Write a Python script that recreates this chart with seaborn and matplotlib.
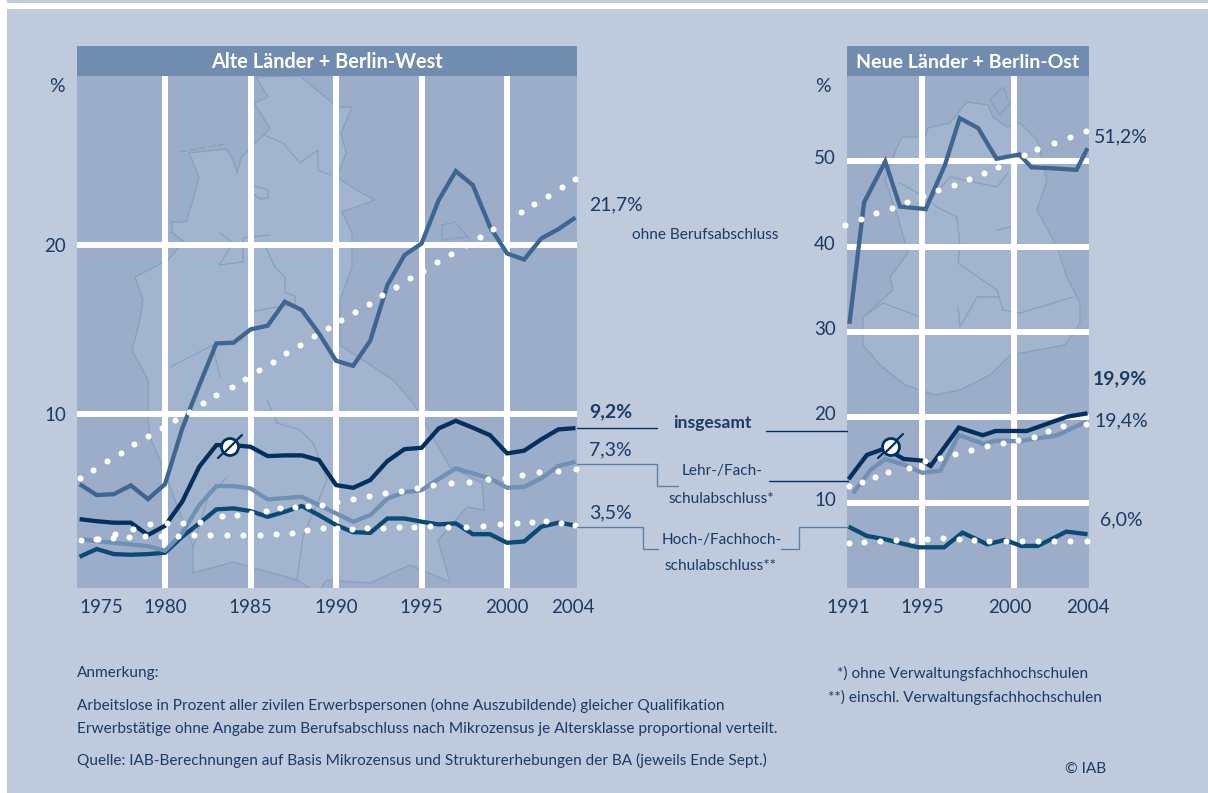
#!/usr/bin/env python3
# -*- coding: utf-8 -*-

import matplotlib as mpl
mpl.use("Agg")
import matplotlib.pyplot as plt
import matplotlib.patches as mpatches
from matplotlib.transforms import ScaledTranslation
import seaborn as sns

W, H = 1208, 793

BG = "#BFCBDC"
SEA = "#9BADC8"
LAND = "#A3B5CE"
MAPLINE = "#86A0BF"
HEADER = "#708DAF"
TEXT = "#1B3A66"
DARK = "#04305F"
OHNE = "#3F6690"
LEHR = "#7090B4"
HOCH = "#0B4A73"
CONNECT = "#5F7FA4"

# ---- west, 1975-2004 (percent)
west_years = list(range(1975, 2005))
west_total = [3.77, 3.65, 3.56, 3.56, 2.83, 3.38, 4.80, 6.88, 8.16, 8.16, 8.06, 7.51, 7.55, 7.55, 7.27,
              5.79, 5.63, 6.09, 7.21, 7.92, 8.00, 9.15, 9.60, 9.19, 8.75, 7.67, 7.83, 8.50, 9.09, 9.17]
west_none = [5.85, 5.20, 5.25, 5.77, 4.96, 5.85, 9.13, 11.7, 14.19, 14.23, 15.02, 15.24, 16.66, 16.16, 14.78,
             13.16, 12.86, 14.35, 17.64, 19.42, 20.11, 22.68, 24.40, 23.57, 21.10, 19.52, 19.16, 20.41, 20.96, 21.65]
west_voc = [2.59, 2.47, 2.37, 2.27, 2.17, 1.90, 2.93, 4.60, 5.73, 5.73, 5.59, 4.94, 5.02, 5.10, 4.60,
            4.11, 3.62, 4.01, 4.98, 5.37, 5.49, 6.15, 6.78, 6.48, 6.19, 5.63, 5.69, 6.19, 6.92, 7.17]
west_uni = [1.54, 2.00, 1.70, 1.66, 1.70, 1.78, 2.73, 3.52, 4.35, 4.41, 4.25, 3.91, 4.21, 4.55, 4.01,
            3.42, 3.00, 2.96, 3.81, 3.81, 3.62, 3.46, 3.52, 2.88, 2.88, 2.37, 2.45, 3.32, 3.56, 3.40]

# dotted series in the picture
west_none_f_years = [1975.0, 1975.8, 1976.6, 1977.4, 1978.2, 1979.0, 1979.8, 1980.6, 1981.4, 1982.2, 1983.0, 1983.9,
                     1984.7, 1985.5, 1986.3, 1987.1, 1987.9, 1988.7, 1989.5, 1990.3, 1991.1, 1991.9, 1992.7, 1993.5,
                     1994.3, 1995.1, 1995.9, 1996.7, 1997.6, 1998.4, 1999.2, 2000.0, 2000.8, 2001.6, 2002.4, 2003.2, 2004.0]
west_none_f = [6.2, 6.7, 7.2, 7.7, 8.2, 8.7, 9.2, 9.65, 10.15, 10.65, 11.15, 11.6, 12.1, 12.6, 13.1, 13.6, 14.1, 14.6,
               15.1, 15.55, 16.05, 16.55, 17.05, 17.55, 18.05, 18.5, 19.0, 19.5, 20.0, 20.5, 21.0, 21.5, 22.0, 22.45,
               22.95, 23.45, 23.95]
west_voc_f_years = [1975.09, 1976.06, 1977.1, 1978.1, 1979.12, 1980.1, 1981.07, 1982.03, 1983.35, 1984.2, 1985.03,
                    1985.89, 1986.74, 1987.6, 1988.38, 1989.16, 1990.08, 1991.01, 1991.9, 1992.87, 1993.8, 1994.72,
                    1995.66, 1996.73, 1997.8, 1998.87, 1999.89, 2000.86, 2001.84, 2002.95, 2004.04]
west_voc_f = [2.53, 2.59, 2.88, 3.18, 3.48, 3.52, 3.54, 3.58, 3.95, 4.01, 4.11, 4.25, 4.41, 4.52, 4.58, 4.60, 4.78,
              4.94, 5.12, 5.30, 5.45, 5.59, 5.79, 5.89, 5.99, 6.13, 6.22, 6.40, 6.54, 6.64, 6.72]
west_uni_f_years = [1975.96, 1976.94, 1977.89, 1978.83, 1979.75, 1980.74, 1981.72, 1982.65, 1983.63, 1984.56, 1985.54,
                    1986.49, 1987.41, 1988.3, 1989.22, 1990.08, 1990.92, 1991.83, 1992.77, 1993.67, 1994.58, 1995.5,
                    1996.54, 1997.57, 1998.58, 1999.58, 2000.57, 2001.45, 2002.29, 2003.15, 2003.99]
west_uni_f = [2.57, 2.63, 2.70, 2.77, 2.79, 2.79, 2.81, 2.81, 2.83, 2.83, 2.85, 2.87, 2.96, 3.12, 3.26, 3.22, 3.18,
              3.22, 3.22, 3.28, 3.32, 3.36, 3.32, 3.28, 3.38, 3.46, 3.56, 3.60, 3.64, 3.52, 3.42]

# ---- east, 1991-2004 (percent)
east_total_years = [1991, 1992, 1993, 1994, 1995, 1995.47, 1997, 1998.3, 1999, 2000.7, 2002.9, 2004]
east_total = [12.74, 15.59, 16.37, 15.12, 14.93, 14.30, 18.80, 17.90, 18.40, 18.40, 20.08, 20.47]
east_none_years = [1991.05, 1991.85, 1993, 1993.8, 1995.2, 1996.25, 1997.05, 1998.05, 1999.05, 2000.3, 2000.95, 2002,
                   2003.4, 2004]
east_none = [30.96, 45.2, 49.98, 44.7, 44.4, 49.6, 55.06, 53.9, 50.3, 50.8, 49.3, 49.2, 49.0, 51.55]
east_voc_years = [1991.25, 1992.2, 1993, 1994.1, 1995, 1996, 1997, 1998.33, 1999, 2000.2, 2002.3, 2003.95]
east_voc = [11.1, 13.83, 15.12, 14.4, 13.5, 13.75, 17.94, 16.88, 17.27, 17.2, 17.86, 19.5]
east_uni_years = [1991, 1992, 1993, 1994, 1994.8, 1996.2, 1997.2, 1998.55, 1999.5, 2000.4, 2001.3, 2002.85, 2004]
east_uni = [7.19, 6.10, 5.71, 5.16, 4.77, 4.77, 6.49, 5.12, 5.63, 4.93, 4.93, 6.61, 6.30]

east_none_f_years = [1990.83, 1991.68, 1992.52, 1993.35, 1994.2, 1995.04, 1995.87, 1996.72, 1997.55, 1998.39, 1999.11,
                     1999.84, 2000.56, 2001.27, 2002.16, 2003.04, 2003.93]
east_none_f = [42.56, 43.2, 43.9, 44.55, 45.2, 45.9, 46.6, 47.25, 47.9, 48.6, 49.3, 50.0, 50.7, 51.4, 52.1, 52.8, 53.5]
east_voc_f_years = [1991.01, 1991.72, 1992.45, 1993.17, 1994.31, 1995.16, 1995.98, 1996.78, 1997.64, 1998.55, 1999.38,
                    2000.22, 2001.07, 2001.87, 2002.64, 2003.9]
east_voc_f = [11.96, 12.47, 13.05, 13.56, 14.03, 14.89, 15.28, 15.67, 16.18, 16.68, 17.04, 17.35, 17.7, 18.36, 19.03,
              19.18]
east_uni_f_years = [1991.01, 1991.87, 1992.72, 1993.59, 1994.44, 1995.29, 1996.16, 1996.99, 1997.83, 1998.66, 1999.55,
                    2000.42, 2001.3, 2002.17, 2003.06, 2003.95]
east_uni_f = [5.32, 5.40, 5.51, 5.59, 5.67, 5.79, 5.90, 5.71, 5.59, 5.47, 5.47, 5.47, 5.47, 5.47, 5.47, 5.47]

# map backdrop, in picture pixels
MAP_WEST = [(189, 153), (226, 149), (233, 160), (237, 173), (241, 158), (258, 140), (264, 135), (270, 128), (254, 103),
            (268, 97), (256, 77), (300, 76), (337, 107), (352, 107), (341, 133), (346, 153), (337, 177), (356, 190),
            (375, 200), (342, 212), (352, 233), (352, 267), (340, 300), (340, 345), (393, 380), (413, 403), (423, 420),
            (450, 467), (482, 483), (484, 510), (467, 507), (438, 540), (450, 582), (410, 565), (370, 583), (327, 580),
            (317, 593), (297, 580), (233, 562), (193, 573), (193, 547), (160, 460), (150, 437), (148, 417), (148, 380),
            (132, 350), (140, 320), (143, 300), (135, 277), (168, 260), (184, 242), (172, 232), (172, 222), (186, 222),
            (193, 200), (199, 177)]
MAP_EAST = [(897, 147), (902, 137), (925, 137), (928, 128), (950, 123), (967, 102), (988, 105), (993, 117), (1007, 127),
            (1020, 123), (1037, 140), (1040, 150), (1047, 180), (1037, 210), (1057, 247), (1067, 277), (1080, 303),
            (1080, 323), (1065, 345), (1010, 355), (990, 375), (960, 390), (935, 395), (905, 385), (880, 365),
            (863, 345), (863, 317), (893, 290), (890, 277), (908, 253), (898, 217), (885, 180)]
MAP_LINES = [
    [(264, 135), (283, 143), (300, 163), (318, 150), (318, 170), (331, 175)],
    [(251, 185), (268, 190), (268, 198), (260, 199), (251, 192), (251, 185)],
    [(220, 233), (233, 243), (219, 265), (243, 262), (243, 238), (270, 235)],
    [(266, 248), (275, 267), (285, 277), (285, 293), (295, 296), (295, 305), (270, 308), (252, 312)],
    [(217, 343), (170, 367)],
    [(213, 347), (220, 377)],
    [(267, 400), (277, 423), (300, 430), (313, 443), (327, 480), (303, 537), (297, 580)],
    [(227, 477), (208, 497), (193, 547)],
    [(442, 225), (455, 222), (468, 237), (442, 240), (442, 225)],
    [(990, 100), (1003, 87), (1010, 103), (1000, 115), (990, 100)],
    [(900, 183), (930, 200), (950, 177), (997, 187), (1008, 173)],
    [(928, 200), (937, 207), (957, 217), (960, 247), (958, 263), (997, 290), (1003, 310), (1020, 313), (1040, 307),
     (1073, 297)],
    [(997, 230), (1010, 227), (1020, 247)],
    [(863, 317), (883, 303), (920, 317), (925, 323)],
    [(958, 307), (960, 327), (977, 297), (1000, 297)],
]

sns.set_theme(style="whitegrid", rc={
    "grid.color": "white",
    "grid.linewidth": 4.3,
    "axes.facecolor": "none",
    "axes.edgecolor": "none",
    "xtick.bottom": False,
    "ytick.left": False,
    "text.color": TEXT,
    "xtick.color": TEXT,
    "ytick.color": TEXT,
})
plt.rcParams["font.family"] = ["Lato", "DejaVu Sans"]

fig = plt.figure(figsize=(W / 100, H / 100), dpi=100, facecolor="white")


def box(left, top, right, bottom):
    return [left / W, 1 - bottom / H, (right - left) / W, (bottom - top) / H]


def shift(label, dx, dy):
    # move a tick label by some pixels
    label.set_transform(label.get_transform() + ScaledTranslation(dx / 100, dy / 100, fig.dpi_scale_trans))


# backdrop and overlay both use picture pixels
back = fig.add_axes([0, 0, 1, 1], zorder=0)
back.set_xlim(0, W)
back.set_ylim(H, 0)
back.axis("off")
back.add_patch(mpatches.Rectangle((7, 0), W - 7, 3, fc=BG, lw=0))
back.add_patch(mpatches.Rectangle((7, 9), W - 7, H - 9, fc=BG, lw=0))
for left, right in [(77, 577), (847, 1089)]:
    back.add_patch(mpatches.Rectangle((left, 76), right - left, 512, fc=SEA, lw=0))
    back.add_patch(mpatches.Rectangle((left, 46), right - left, 30, fc=HEADER, lw=0, zorder=4))
for poly in (MAP_WEST, MAP_EAST):
    back.add_patch(mpatches.Polygon(poly, closed=True, fc=LAND, ec=MAPLINE, lw=0.9, joinstyle="round"))
for line in MAP_LINES:
    back.plot([p[0] for p in line], [p[1] for p in line], color=MAPLINE, lw=0.9)
back.plot([180, 224], [152, 144], color=MAPLINE, lw=1, ls=(0, (5, 2)))
# the map stays inside the panels
for rect in [(7, 588, W - 7, H - 588), (577, 9, 270, 579), (1089, 9, W - 1089, 579), (7, 9, 70, 579)]:
    back.add_patch(mpatches.Rectangle(rect[:2], rect[2], rect[3], fc=BG, lw=0, zorder=3))


def draw_panel(pos, xlim, ylim, major_x, minor_x, yticks, title, title_size, solid, dots):
    ax = fig.add_axes(box(*pos), zorder=1)
    for xs, ys, col in solid:
        sns.lineplot(x=xs, y=ys, color=col, linewidth=3.1, sort=False, errorbar=None, ax=ax,
                     solid_capstyle="butt", solid_joinstyle="miter")
    for xs, ys in dots:
        sns.scatterplot(x=xs, y=ys, color="white", s=19, linewidth=0, clip_on=False, zorder=5, ax=ax)
    ax.set_xlim(*xlim)
    ax.set_ylim(*ylim)
    ax.set_xticks(major_x, labels=[str(y) for y in major_x])
    ax.set_xticks(minor_x, labels=[str(y) for y in minor_x], minor=True)
    ax.set_yticks(yticks, labels=[str(y) for y in yticks])
    ax.grid(True, which="major")
    ax.grid(False, which="minor")
    ax.set_axisbelow(True)
    ax.tick_params(axis="x", which="both", length=0, labelsize=13.5, pad=8)
    ax.tick_params(axis="y", length=0, labelsize=13.5, pad=8)
    ax.set_title(title, color="white", fontweight="bold", fontsize=title_size, pad=5.5)
    ax.set_xlabel("")
    ax.set_ylabel("")
    return ax


ax_w = draw_panel(
    (77, 76, 577, 588), (1974.85, 2004.09), (-0.31, 30.04),
    [1980, 1985, 1990, 1995, 2000], [1975, 2004], [10, 20],
    "Alte Länder + Berlin-West", 14.3,
    [(west_years, west_uni, HOCH), (west_years, west_voc, LEHR), (west_years, west_none, OHNE), (west_years, west_total, DARK)],
    [(west_none_f_years, west_none_f), (west_voc_f_years, west_voc_f), (west_uni_f_years, west_uni_f)],
)
ax_e = draw_panel(
    (847, 76, 1089, 588), (1990.92, 2004.08), (0, 60),
    [1995, 2000], [1991, 2004], [10, 20, 30, 40, 50],
    "Neue Länder + Berlin-Ost", 14.0,
    [(east_uni_years, east_uni, HOCH), (east_voc_years, east_voc, LEHR), (east_none_years, east_none, OHNE), (east_total_years, east_total, DARK)],
    [(east_none_f_years, east_none_f), (east_voc_f_years, east_voc_f), (east_uni_f_years, east_uni_f)],
)
ax_w.get_xticklabels(minor=True)[0].set_ha("left")
shift(ax_w.get_xticklabels(minor=True)[1], -3, 0)
shift(ax_e.get_xticklabels()[1], -4, 0)
for lab in ax_e.get_yticklabels():
    shift(lab, 0, 4)

over = fig.add_axes([0, 0, 1, 1], zorder=2)
over.set_xlim(0, W)
over.set_ylim(H, 0)
over.axis("off")

# connector lines between the two panels
for xs, ys, col in [
    ([577, 657], [428, 428], DARK),
    ([766, 847], [431, 431], DARK),
    ([577, 657, 657, 678], [464, 464, 486, 486], CONNECT),
    ([769, 848], [481, 481], DARK),
    ([577, 643, 643, 658], [527, 527, 549, 549], CONNECT),
    ([781, 799, 799, 848], [549, 549, 527, 527], CONNECT),
]:
    over.plot(xs, ys, color=col, lw=1.0, solid_joinstyle="miter")

# break marker on the total line
for cx, cy, x0, y0, x1, y1 in [(230, 447, 218, 458, 242, 435), (891, 447, 878, 458, 903, 434)]:
    over.plot([x0, x1], [y0, y1], color=DARK, lw=1.6, zorder=3)
    over.add_patch(mpatches.Circle((cx, cy), 8.5, fc="white", ec=DARK, lw=2.0, zorder=4))
    over.plot([cx - 6, cx + 6], [cy + 6, cy - 6], color=DARK, lw=1.6, zorder=5)

BIG = 14.0
MID = 11.1
for x, y, s, size, weight, ha in [
    (57, 86, "%", BIG, "normal", "center"),
    (823, 86, "%", BIG, "normal", "center"),
    (589, 205, "21,7%", BIG, "normal", "left"),
    (705, 235, "ohne Berufsabschluss", MID, "normal", "center"),
    (589, 412, "9,2%", BIG, "bold", "left"),
    (589, 450, "7,3%", BIG, "normal", "left"),
    (589, 513, "3,5%", BIG, "normal", "left"),
    (712, 423, "insgesamt", 12.6, "bold", "center"),
    (722, 471, "Lehr-/Fach-", MID, "normal", "center"),
    (721, 499, "schulabschluss*", MID, "normal", "center"),
    (722, 540, "Hoch-/Fachhoch-", MID, "normal", "center"),
    (721, 566, "schulabschluss**", MID, "normal", "center"),
    (1094, 137, "51,2%", BIG, "normal", "left"),
    (1093, 379, "19,9%", BIG, "bold", "left"),
    (1094, 421, "19,4%", BIG, "normal", "left"),
    (1100, 520, "6,0%", BIG, "normal", "left"),
    (77, 673, "Anmerkung:", MID, "normal", "left"),
    (77, 705, "Arbeitslose in Prozent aller zivilen Erwerbspersonen (ohne Auszubildende) gleicher Qualifikation", MID, "normal", "left"),
    (77, 729, "Erwerbstätige ohne Angabe zum Berufsabschluss nach Mikrozensus je Altersklasse proportional verteilt.", MID, "normal", "left"),
    (77, 760, "Quelle: IAB-Berechnungen auf Basis Mikrozensus und Strukturerhebungen der BA (jeweils Ende Sept.)", MID, "normal", "left"),
    (837, 673, "*) ohne Verwaltungsfachhochschulen", MID, "normal", "left"),
    (828, 697, "**) einschl. Verwaltungsfachhochschulen", MID, "normal", "left"),
    (1065, 769, "© IAB", MID, "normal", "left"),
]:
    over.text(x, y, s, fontsize=size, fontweight=weight, ha=ha, va="center", color=TEXT)

fig.savefig("out.png", dpi=100, facecolor=fig.get_facecolor())
